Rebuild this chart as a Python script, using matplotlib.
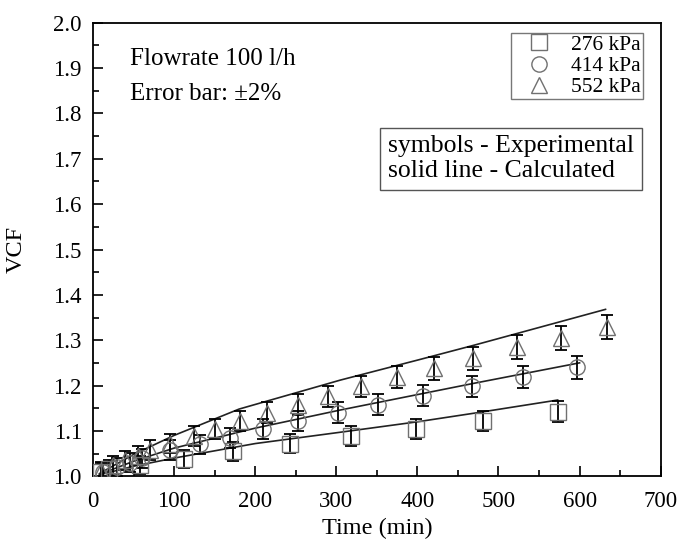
import matplotlib
matplotlib.use("Agg")
import matplotlib.pyplot as plt
from matplotlib.ticker import MultipleLocator

plt.rcParams['font.family'] = ['Liberation Serif', 'DejaVu Serif']

# experimental points
t_276 = [10, 20, 58, 112, 173, 243, 318, 398, 481, 573]
vcf_276 = [1.01, 1.015, 1.025, 1.038, 1.055, 1.072, 1.088, 1.105, 1.122, 1.142]

t_414 = [12, 30, 45, 60, 95, 132, 169, 210, 253, 302, 352, 407, 467, 530, 597]
vcf_414 = [1.01, 1.02, 1.03, 1.04, 1.058, 1.07, 1.085, 1.105, 1.122, 1.14, 1.158,
           1.178, 1.198, 1.218, 1.24]

t_552 = [10, 25, 40, 55, 70, 95, 124, 151, 181, 215, 253, 290, 330, 375, 420,
         469, 523, 577, 634]
vcf_552 = [1.012, 1.025, 1.035, 1.045, 1.058, 1.072, 1.088, 1.105, 1.122, 1.14,
           1.158, 1.176, 1.198, 1.218, 1.238, 1.26, 1.285, 1.305, 1.33]

# calculated curves
tc_276 = [8, 50, 100, 200, 305, 400, 470, 573]
vc_276 = [1.003, 1.022, 1.04, 1.072, 1.097, 1.12, 1.139, 1.168]

tc_414 = [8, 50, 100, 200, 305, 400, 470, 600]
vc_414 = [1.004, 1.033, 1.062, 1.106, 1.146, 1.18, 1.205, 1.25]

tc_552 = [8, 50, 100, 180, 305, 400, 470, 632]
vc_552 = [1.006, 1.048, 1.09, 1.148, 1.212, 1.256, 1.289, 1.368]

err_pct = 0.02

fig = plt.figure(figsize=(6.79, 5.43), dpi=100)
ax = fig.add_axes([0.137, 0.123, 0.836, 0.835])

series = [
    (t_276, vcf_276, 's', '276 kPa'),
    (t_414, vcf_414, 'o', '414 kPa'),
    (t_552, vcf_552, '^', '552 kPa'),
]
handles = []
for t, v, m, lab in series:
    ax.errorbar(t, v, yerr=[err_pct * y for y in v], fmt='none', ecolor='black',
                elinewidth=1.3, capsize=4, capthick=1.3, zorder=2)
    h, = ax.plot(t, v, linestyle='none', marker=m, markersize=11,
                 markerfacecolor='none', markeredgecolor='#707070',
                 markeredgewidth=1.0, label=lab, zorder=3)
    handles.append(h)

for tc, vc in [(tc_276, vc_276), (tc_414, vc_414), (tc_552, vc_552)]:
    ax.plot(tc, vc, color='#222222', linewidth=1.2, zorder=1)

ax.set_xlim(0, 700)
ax.set_ylim(1.0, 2.0)
ax.xaxis.set_major_locator(MultipleLocator(100))
ax.xaxis.set_minor_locator(MultipleLocator(50))
ax.yaxis.set_major_locator(MultipleLocator(0.1))
ax.yaxis.set_minor_locator(MultipleLocator(0.05))
ax.tick_params(which='both', direction='in', top=False, right=False,
               labelsize=16.5, width=1.2)
ax.tick_params(axis='x', pad=11)
ax.tick_params(axis='y', pad=8)
ax.tick_params(which='major', length=7)
ax.tick_params(which='minor', length=4)
for s in ax.spines.values():
    s.set_linewidth(1.3)

ax.set_xlabel('Time (min)', fontsize=17.5, labelpad=4)
ax.set_ylabel('VCF', fontsize=17.5, labelpad=19)

ax.text(0.065, 0.945, 'Flowrate 100 l/h', transform=ax.transAxes,
        fontsize=18, va='top')
ax.text(0.065, 0.868, 'Error bar: \u00b12%', transform=ax.transAxes,
        fontsize=18, va='top')

leg = ax.legend(handles=handles, loc='upper right', fontsize=15.5,
                frameon=True, fancybox=False, edgecolor='#555555',
                handlelength=2.4, handletextpad=0.25, labelspacing=0.05,
                borderpad=0.1, borderaxespad=0.0, bbox_to_anchor=(0.968, 0.978))
leg.get_frame().set_linewidth(1.0)

ax.text(0.52, 0.752, 'symbols - Experimental\nsolid line - Calculated',
        transform=ax.transAxes, fontsize=18.5, va='top', linespacing=1.15,
        bbox=dict(boxstyle='square,pad=0.3', facecolor='white',
                  edgecolor='#555555', linewidth=1.0))

fig.savefig('out.png', dpi=100)
